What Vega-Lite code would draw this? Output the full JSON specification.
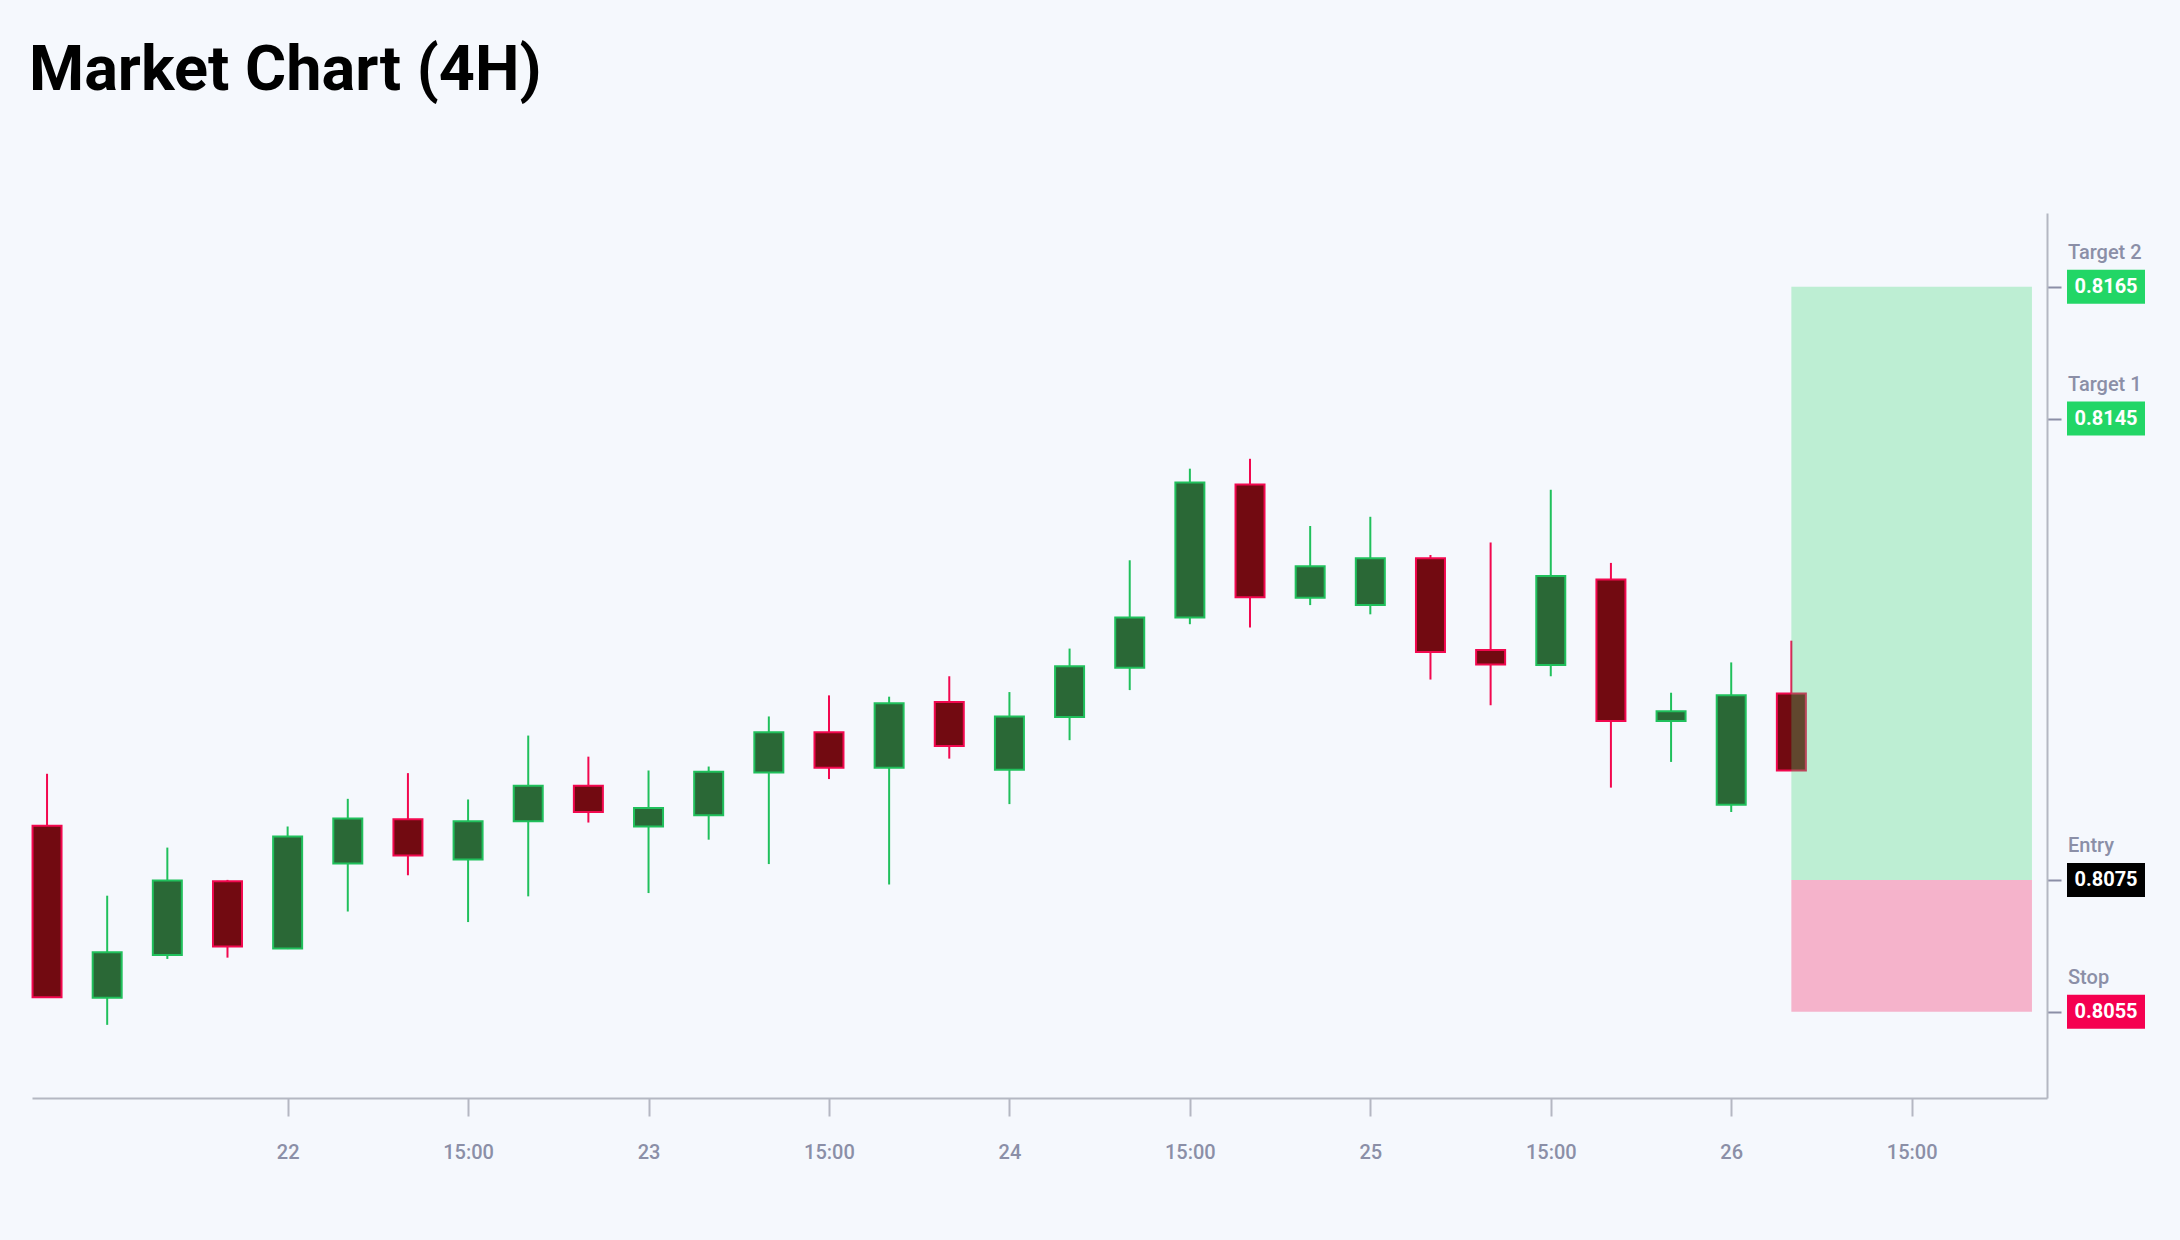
{
  "$schema": "https://vega.github.io/schema/vega-lite/v6.json",
  "width": 2015,
  "height": 885,
  "autosize": {"type": "none"},
  "padding": {"left": 32, "top": 213, "right": 133, "bottom": 142},
  "background": "#f5f8fd",
  "title": {
    "text": "Market Chart (4H)",
    "anchor": "start",
    "frame": "group",
    "font": "Roboto",
    "fontSize": 63,
    "fontWeight": "bold",
    "color": "#000000",
    "baseline": "alphabetic",
    "offset": 60,
    "dx": -3
  },
  "config": {
    "view": {"stroke": null},
    "font": "Roboto"
  },
  "datasets": {
    "candles": [
      {"t": "2024-03-21T08:00:00Z", "o": 0.80832, "h": 0.80911, "l": 0.80572, "c": 0.80572},
      {"t": "2024-03-21T12:00:00Z", "o": 0.80571, "h": 0.80726, "l": 0.80530, "c": 0.80640},
      {"t": "2024-03-21T16:00:00Z", "o": 0.80636, "h": 0.80799, "l": 0.80630, "c": 0.80749},
      {"t": "2024-03-21T20:00:00Z", "o": 0.80748, "h": 0.80750, "l": 0.80632, "c": 0.80649},
      {"t": "2024-03-22T00:00:00Z", "o": 0.80646, "h": 0.80831, "l": 0.80645, "c": 0.80816},
      {"t": "2024-03-22T04:00:00Z", "o": 0.80775, "h": 0.80873, "l": 0.80702, "c": 0.80843},
      {"t": "2024-03-22T08:00:00Z", "o": 0.80842, "h": 0.80912, "l": 0.80757, "c": 0.80787},
      {"t": "2024-03-22T12:00:00Z", "o": 0.80781, "h": 0.80872, "l": 0.80686, "c": 0.80839},
      {"t": "2024-03-22T16:00:00Z", "o": 0.80839, "h": 0.80969, "l": 0.80725, "c": 0.80893},
      {"t": "2024-03-22T20:00:00Z", "o": 0.80893, "h": 0.80937, "l": 0.80837, "c": 0.80853},
      {"t": "2024-03-23T00:00:00Z", "o": 0.80831, "h": 0.80916, "l": 0.80730, "c": 0.80859},
      {"t": "2024-03-23T04:00:00Z", "o": 0.80848, "h": 0.80922, "l": 0.80811, "c": 0.80914},
      {"t": "2024-03-23T08:00:00Z", "o": 0.80913, "h": 0.80998, "l": 0.80774, "c": 0.80974},
      {"t": "2024-03-23T12:00:00Z", "o": 0.80974, "h": 0.81030, "l": 0.80903, "c": 0.80920},
      {"t": "2024-03-23T16:00:00Z", "o": 0.80920, "h": 0.81028, "l": 0.80743, "c": 0.81018},
      {"t": "2024-03-23T20:00:00Z", "o": 0.81020, "h": 0.81059, "l": 0.80934, "c": 0.80953},
      {"t": "2024-03-24T00:00:00Z", "o": 0.80917, "h": 0.81035, "l": 0.80865, "c": 0.80998},
      {"t": "2024-03-24T04:00:00Z", "o": 0.80997, "h": 0.81101, "l": 0.80962, "c": 0.81074},
      {"t": "2024-03-24T08:00:00Z", "o": 0.81072, "h": 0.81235, "l": 0.81038, "c": 0.81148},
      {"t": "2024-03-24T12:00:00Z", "o": 0.81148, "h": 0.81374, "l": 0.81138, "c": 0.81353},
      {"t": "2024-03-24T16:00:00Z", "o": 0.81350, "h": 0.81389, "l": 0.81133, "c": 0.81179},
      {"t": "2024-03-24T20:00:00Z", "o": 0.81178, "h": 0.81287, "l": 0.81167, "c": 0.81226},
      {"t": "2024-03-25T00:00:00Z", "o": 0.81167, "h": 0.81301, "l": 0.81153, "c": 0.81238},
      {"t": "2024-03-25T04:00:00Z", "o": 0.81238, "h": 0.81243, "l": 0.81054, "c": 0.81096},
      {"t": "2024-03-25T08:00:00Z", "o": 0.81099, "h": 0.81262, "l": 0.81015, "c": 0.81077},
      {"t": "2024-03-25T12:00:00Z", "o": 0.81076, "h": 0.81342, "l": 0.81059, "c": 0.81211},
      {"t": "2024-03-25T16:00:00Z", "o": 0.81206, "h": 0.81231, "l": 0.80890, "c": 0.80991},
      {"t": "2024-03-25T20:00:00Z", "o": 0.80991, "h": 0.81034, "l": 0.80929, "c": 0.81006},
      {"t": "2024-03-26T00:00:00Z", "o": 0.80864, "h": 0.81080, "l": 0.80853, "c": 0.81030},
      {"t": "2024-03-26T04:00:00Z", "o": 0.81033, "h": 0.81113, "l": 0.80916, "c": 0.80916}
    ],
    "zones": [
      {"zone": "reward", "start": "2024-03-26T04:00:00Z", "end": "2024-03-26T20:00:00Z", "low": 0.8075, "high": 0.8165},
      {"zone": "risk", "start": "2024-03-26T04:00:00Z", "end": "2024-03-26T20:00:00Z", "low": 0.8055, "high": 0.8075}
    ],
    "levels": [
      {"label": "Target 2", "price": 0.8165},
      {"label": "Target 1", "price": 0.8145},
      {"label": "Entry", "price": 0.8075},
      {"label": "Stop", "price": 0.8055}
    ]
  },
  "layer": [
    {
      "data": {"name": "candles"},
      "mark": {"type": "rule", "strokeWidth": 2},
      "encoding": {
        "x": {
          "field": "t",
          "type": "temporal",
          "scale": {
            "type": "utc",
            "padding": 0,
            "domain": [
              {"year": 2024, "month": 3, "date": 21, "hours": 7, "utc": true},
              {"year": 2024, "month": 3, "date": 26, "hours": 21, "utc": true}
            ]
          },
          "axis": {
            "title": null,
            "grid": false,
            "values": [
              {"year": 2024, "month": 3, "date": 22, "hours": 0, "utc": true},
              {"year": 2024, "month": 3, "date": 22, "hours": 12, "utc": true},
              {"year": 2024, "month": 3, "date": 23, "hours": 0, "utc": true},
              {"year": 2024, "month": 3, "date": 23, "hours": 12, "utc": true},
              {"year": 2024, "month": 3, "date": 24, "hours": 0, "utc": true},
              {"year": 2024, "month": 3, "date": 24, "hours": 12, "utc": true},
              {"year": 2024, "month": 3, "date": 25, "hours": 0, "utc": true},
              {"year": 2024, "month": 3, "date": 25, "hours": 12, "utc": true},
              {"year": 2024, "month": 3, "date": 26, "hours": 0, "utc": true},
              {"year": 2024, "month": 3, "date": 26, "hours": 12, "utc": true}
            ],
            "labelExpr": "utchours(datum.value) === 0 ? utcFormat(datum.value, '%d') : utcFormat(datum.value + 10800000, '%H:%M')",
            "domainColor": "#b4b7c2",
            "domainWidth": 2,
            "tickColor": "#b4b7c2",
            "tickWidth": 2,
            "tickSize": 18,
            "labelFont": "Roboto",
            "labelFontSize": 20,
            "labelFontWeight": 500,
            "labelColor": "#8b8fa7",
            "labelPadding": 26,
            "labelFlush": false,
            "labelOverlap": false
          }
        },
        "y": {
          "field": "l",
          "type": "quantitative",
          "scale": {"domain": [0.80419, 0.81762], "nice": false, "zero": false},
          "axis": {
            "orient": "right",
            "title": null,
            "grid": false,
            "labels": false,
            "values": [0.8055, 0.8075, 0.8145, 0.8165],
            "domainColor": "#b4b7c2",
            "domainWidth": 2,
            "tickColor": "#8b8fa7",
            "tickWidth": 2,
            "tickSize": 14
          }
        },
        "y2": {"field": "h"},
        "color": {"condition": {"test": "datum.c >= datum.o", "value": "#20c05c"}, "value": "#f2084f"}
      }
    },
    {
      "data": {"name": "candles"},
      "mark": {"type": "bar", "size": 29, "strokeWidth": 2},
      "encoding": {
        "x": {"field": "t", "type": "temporal"},
        "y": {"field": "o", "type": "quantitative"},
        "y2": {"field": "c"},
        "fill": {"condition": {"test": "datum.c >= datum.o", "value": "#2a6836"}, "value": "#720a11"},
        "stroke": {"condition": {"test": "datum.c >= datum.o", "value": "#20c05c"}, "value": "#f2084f"}
      }
    },
    {
      "data": {"name": "zones"},
      "mark": {"type": "rect", "opacity": 0.3},
      "encoding": {
        "x": {"field": "start", "type": "temporal"},
        "x2": {"field": "end"},
        "y": {"field": "low", "type": "quantitative"},
        "y2": {"field": "high"},
        "fill": {"condition": {"test": "datum.zone === 'reward'", "value": "#3ad774"}, "value": "#f5155a"}
      }
    },
    {
      "data": {"name": "levels"},
      "mark": {"type": "text", "align": "left", "baseline": "alphabetic", "dx": 21, "dy": -28, "font": "Roboto", "fontSize": 20, "fontWeight": 500, "color": "#8b8fa7"},
      "encoding": {
        "x": {"datum": {"year": 2024, "month": 3, "date": 26, "hours": 21, "utc": true}, "type": "temporal"},
        "y": {"field": "price", "type": "quantitative"},
        "text": {"field": "label"}
      }
    },
    {
      "data": {"name": "levels"},
      "mark": {"type": "rect", "xOffset": 20, "x2Offset": 98, "yOffset": -17, "y2Offset": 17},
      "encoding": {
        "x": {"datum": {"year": 2024, "month": 3, "date": 26, "hours": 21, "utc": true}, "type": "temporal"},
        "x2": {"datum": {"year": 2024, "month": 3, "date": 26, "hours": 21, "utc": true}},
        "y": {"field": "price", "type": "quantitative"},
        "y2": {"field": "price"},
        "fill": {
          "condition": [
            {"test": "datum.label === 'Entry'", "value": "#000000"},
            {"test": "datum.label === 'Stop'", "value": "#f50050"}
          ],
          "value": "#22d666"
        }
      }
    },
    {
      "data": {"name": "levels"},
      "mark": {"type": "text", "align": "center", "baseline": "middle", "dx": 59, "font": "Roboto", "fontSize": 20, "fontWeight": "bold", "color": "#ffffff"},
      "encoding": {
        "x": {"datum": {"year": 2024, "month": 3, "date": 26, "hours": 21, "utc": true}, "type": "temporal"},
        "y": {"field": "price", "type": "quantitative"},
        "text": {"field": "price", "format": ".4f"}
      }
    }
  ]
}
